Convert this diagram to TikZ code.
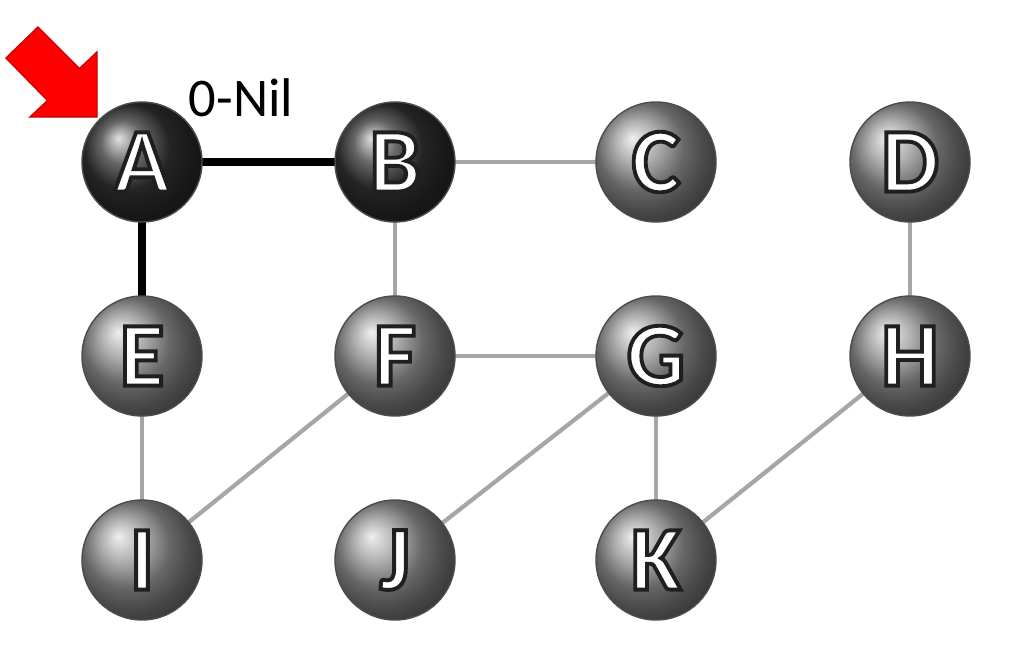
\documentclass[tikz,border=0pt]{standalone}
\usepackage{fontspec}
\setmainfont{Carlito}
% white letters with a dark rim
\newcommand{\balltext}[1]{{\bfseries\color{white}\special{pdf:literal direct 2 Tr 1.1 w 0.12 G}#1\special{pdf:literal direct 0 Tr}}}
\tikzset{
 vertex/.style={circle,minimum size=1.2cm,inner sep=0pt,draw=black!70,thin,shading=ball,
  font=\fontsize{26}{26}\selectfont},
 open/.style={vertex,ball color=gray!85},
 visited/.style={vertex,ball color=black!80},
 edge/.style={draw=gray!70,line width=1.2pt},
 treeedge/.style={draw=black,line width=2pt}
}
\begin{document}
\begin{tikzpicture}
 \useasboundingbox (0,0) rectangle (10.10,-6.49);
 \fill[white] (0,0) rectangle (10.10,-6.49);
 % edges
 \coordinate (a) at (1.42,-1.62);
 \coordinate (b) at (3.95,-1.62);
 \coordinate (e) at (1.42,-3.56);
 \draw[treeedge] (a) -- (b);
 \draw[treeedge] (a) -- (e);
 \coordinate (c) at (6.56,-1.62);
 \coordinate (d) at (9.10,-1.62);
 \coordinate (f) at (3.95,-3.56);
 \coordinate (g) at (6.56,-3.56);
 \coordinate (h) at (9.10,-3.56);
 \coordinate (i) at (1.42,-5.60);
 \coordinate (j) at (3.95,-5.60);
 \coordinate (k) at (6.56,-5.60);
 \foreach \u/\v in {b/c,b/f,d/h,f/g,e/i,i/f,j/g,g/k,k/h}
  \draw[edge] (\u) -- (\v);
 % vertices
 \node[visited] (A) at (a) {\balltext{A}};
 \node[visited] (B) at (b) {\balltext{B}};
 \foreach \n/\p in {C/c,D/d,E/e,F/f,G/g,H/h,I/i,J/j,K/k}
  \node[open] (\n) at (\p) {\balltext{\n}};
 \node[font=\fontsize{15.5}{15.5}\selectfont] (nil) at (2.41,-0.98) {0-Nil};
 % start marker
 \fill[red,draw=red!80!black,thin] (0.97,-1.17) -- (0.97,-0.52) -- (0.795,-0.685)
  -- (0.38,-0.27) -- (0.06,-0.58) -- (0.475,-1.005) -- (0.30,-1.17) -- cycle;
\end{tikzpicture}
\end{document}
